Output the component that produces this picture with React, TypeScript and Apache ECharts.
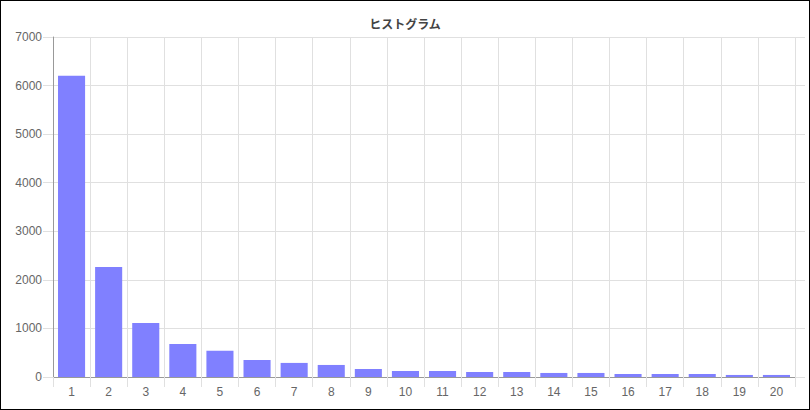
import { useEffect, useRef } from 'react'
import * as echarts from 'echarts'

const categories = ['1', '2', '3', '4', '5', '6', '7', '8', '9', '10', '11', '12', '13', '14', '15', '16', '17', '18', '19', '20']
const counts = [6200, 2265, 1110, 680, 538, 350, 290, 248, 165, 124, 124, 103, 103, 83, 83, 62, 62, 62, 42, 42]
const yMin = 0
const yMax = 7000
const yStep = 1000

const FONT = '"Liberation Sans", Arial, sans-serif'

export default function App() {
  const ref = useRef<HTMLDivElement>(null)

  useEffect(() => {
    document.body.style.margin = '0'
    if (!ref.current) return
    const chart = echarts.init(ref.current, undefined, { renderer: 'svg' })
    chart.setOption({
      animation: false,
      backgroundColor: '#fff',
      title: {
        text: 'ヒストグラム',
        left: 'center',
        top: 11,
        textStyle: {
          fontFamily: '"Noto Sans CJK JP", sans-serif',
          fontSize: 12,
          fontWeight: 'bold',
          color: '#444',
        },
      },
      grid: { left: 52, right: 14, top: 36, bottom: 32 },
      xAxis: {
        type: 'category',
        data: categories,
        axisLine: { lineStyle: { color: '#999' } },
        axisTick: { show: true, length: 10, interval: 0, lineStyle: { color: '#e0e0e0' } },
        axisLabel: { margin: 9, color: '#666', fontSize: 12, fontFamily: FONT, interval: 0 },
        splitLine: { show: true, interval: 0, lineStyle: { color: '#e0e0e0' } },
      },
      yAxis: [
        {
          type: 'value',
          min: yMin,
          max: yMax,
          interval: yStep,
          axisLine: { show: true, lineStyle: { color: '#999' } },
          axisTick: { show: true, length: 10, lineStyle: { color: '#e0e0e0' } },
          axisLabel: {
            margin: 11,
            color: '#666',
            fontSize: 12,
            fontFamily: FONT,
            formatter: (v: number) => String(v),
          },
          splitLine: { show: true, lineStyle: { color: '#e0e0e0' } },
        },
        {
          type: 'value',
          position: 'right',
          min: yMin,
          max: yMax,
          interval: yStep,
          axisLine: { show: false },
          axisTick: { show: true, length: 10, lineStyle: { color: '#e0e0e0' } },
          axisLabel: { show: false },
          splitLine: { show: false },
        },
      ],
      series: [
        {
          type: 'bar',
          data: counts,
          barCategoryGap: '27%',
          itemStyle: { color: '#8080ff' },
        },
      ],
    })
    return () => chart.dispose()
  }, [])

  return (
    <div
      ref={ref}
      style={{ width: 810, height: 410, border: '1px solid #000', boxSizing: 'border-box' }}
    />
  )
}
